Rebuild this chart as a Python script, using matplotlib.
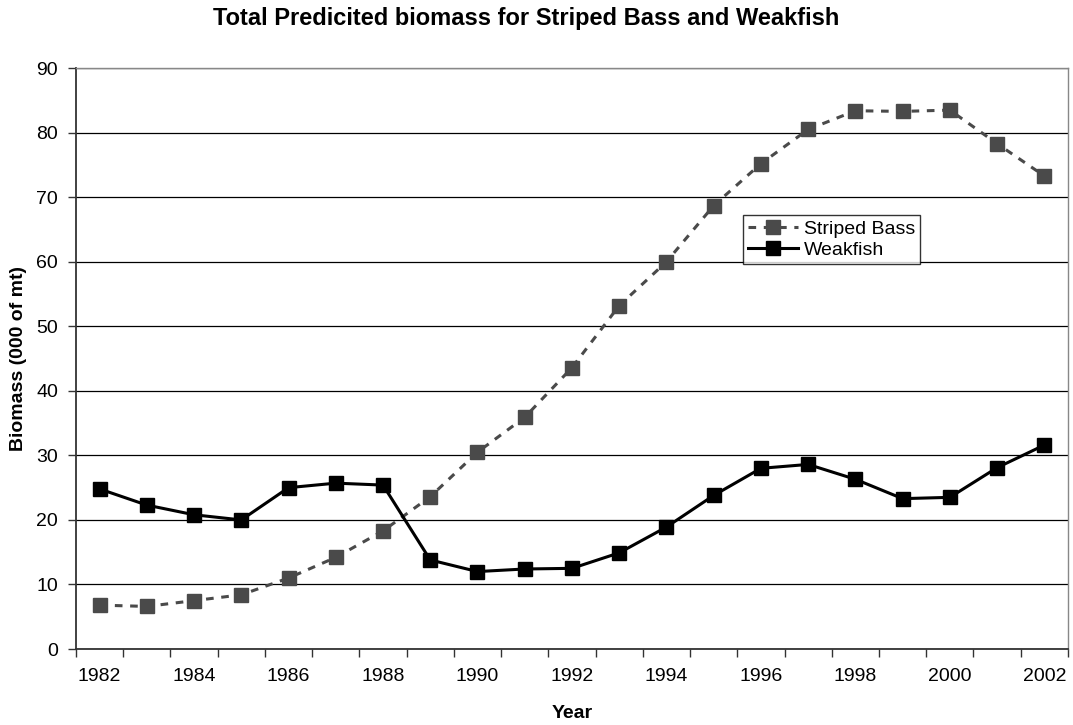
import numpy as np
import matplotlib
matplotlib.use("Agg")
import matplotlib.pyplot as plt

plt.rcParams['font.family'] = ['Liberation Sans', 'DejaVu Sans']

# Data
years = list(range(1982, 2003))
stripedBass = [6.8, 6.6, 7.5, 8.4, 11.0, 14.2, 18.3, 23.6, 30.5, 35.9, 43.6,
               53.2, 60.0, 68.7, 75.2, 80.5, 83.4, 83.3, 83.5, 78.3, 73.3]
weakfish = [24.8, 22.3, 20.8, 20.0, 25.0, 25.7, 25.4, 13.8, 12.0, 12.4, 12.5,
            14.9, 18.9, 23.8, 28.0, 28.6, 26.3, 23.3, 23.5, 28.1, 31.6]
yTicks = list(range(0, 91, 10))

fig = plt.figure(figsize=(10.73, 7.25), dpi=100)
ax = fig.add_axes([0.0708, 0.1048, 0.9245, 0.8012])

x = np.arange(len(years))
ax.plot(x, stripedBass, linestyle=(0, (2.5, 2.5)), color='#4a4a4a', linewidth=2.2,
        marker='s', markersize=9.5, markerfacecolor='#4a4a4a', markeredgecolor='#4a4a4a',
        label='Striped Bass', zorder=3)
ax.plot(x, weakfish, linestyle='-', color='black', linewidth=2.2,
        marker='s', markersize=9.5, markerfacecolor='black', markeredgecolor='black',
        label='Weakfish', zorder=4)

ax.set_xlim(-0.5, len(years) - 0.5)
ax.set_ylim(0, 90)
ax.set_yticks(yTicks)
ax.yaxis.grid(True, color='black', linewidth=0.9)
ax.set_axisbelow(True)

# category boundaries as ticks, labels every other year
ax.set_xticks(np.arange(-0.5, len(years), 1.0))
ax.set_xticklabels([])
ax.set_xticks(x[::2], minor=True)
ax.set_xticklabels([str(y) for y in years[::2]], minor=True)
ax.tick_params(axis='x', which='major', direction='out', length=6, width=1, color='#333333')
ax.tick_params(axis='x', which='minor', length=0, pad=13.5, labelsize=14)
ax.tick_params(axis='y', direction='out', length=6, width=1, color='#333333', labelsize=14, pad=7)

for side in ['left', 'bottom']:
    ax.spines[side].set_color('#333333')
    ax.spines[side].set_linewidth(1.3)
for side in ['top', 'right']:
    ax.spines[side].set_color('#888888')
    ax.spines[side].set_linewidth(1.0)

ax.set_ylabel('Biomass (000 of mt)', fontsize=14, fontweight='bold')
ax.yaxis.set_label_coords((19 - 76) / 992, 0.5)
ax.set_xlabel('Year', fontsize=14, fontweight='bold')
ax.xaxis.set_label_coords(0.5, (649 - 713) / 581)
ax.xaxis.label.set_va('center')
ax.yaxis.label.set_va('center')

fig.text(526 / 1073, 1 - 19 / 725, 'Total Predicited biomass for Striped Bass and Weakfish',
         ha='center', va='center', fontsize=17, fontweight='bold')

leg = ax.legend(loc='upper left', bbox_to_anchor=((743 - 76) / 992, (649 - 215) / 581),
                frameon=True, fancybox=False, fontsize=14, handlelength=2.6,
                handletextpad=0.3, borderpad=0.25, labelspacing=0.2, borderaxespad=0)
leg.get_frame().set_edgecolor('black')
leg.get_frame().set_linewidth(1.0)

fig.savefig('out.png', dpi=100)
